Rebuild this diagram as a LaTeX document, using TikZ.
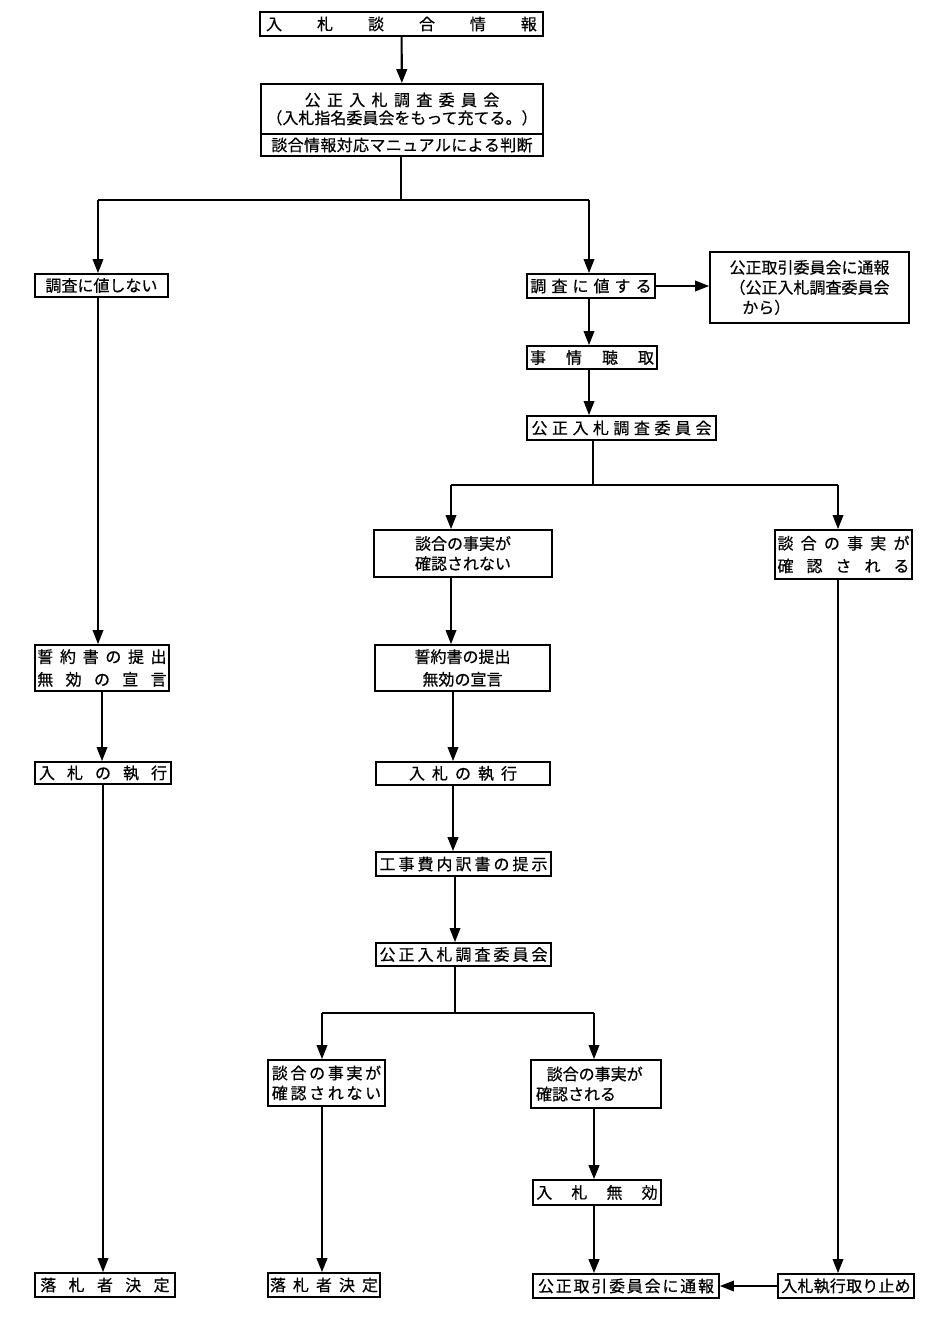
\documentclass[tikz,border=0pt]{standalone}
\usepackage{fontspec}
\newfontfamily\jp[FakeBold=0.5]{Noto Sans CJK JP}
\usetikzlibrary{arrows.meta}
\tikzset{
  box/.style={draw,line width=1.4pt,inner sep=0pt,align=center},
  ln/.style={line width=1pt},
  lnt/.style={line width=1.6pt},
  arr/.style={ln,-{Triangle[width=8pt,length=10.5pt]}},
  arrt/.style={lnt,-{Triangle[width=8pt,length=10.5pt]}}}
\begin{document}
\begin{tikzpicture}[x=0.75pt,y=-0.75pt,
  font=\jp\fontsize{12pt}{15pt}\selectfont]
\useasboundingbox (0,0) rectangle (940,1319);
\fill[white] (0,0) rectangle (940,1319);

% top
\node[box,minimum width=212.25pt,minimum height=18pt] (n1) at (401.5,24) {\hbox to 203pt{入\hfill 札\hfill 談\hfill 合\hfill 情\hfill 報}};
\node[box,minimum width=211.5pt,minimum height=37.5pt] (n2a) at (402,109) {\hbox to 146pt{公\hfill 正\hfill 入\hfill 札\hfill 調\hfill 査\hfill 委\hfill 員\hfill 会}\\[-1.5pt]（入札指名委員会をもって充てる。）};
\node[box,minimum width=211.5pt,minimum height=16.5pt] (n2b) at (402,145) {\hbox to 196pt{談\hfill 合\hfill 情\hfill 報\hfill 対\hfill 応\hfill マ\hfill ニ\hfill ュ\hfill ア\hfill ル\hfill に\hfill よ\hfill る\hfill 判\hfill 断}};

\node[box,minimum width=99.75pt,minimum height=17.25pt] (n3) at (101.5,285.5) {調査に値しない};
\node[box,minimum width=96pt,minimum height=18pt] (n4) at (591,286) {\hbox to 91pt{調\hfill 査\hfill に\hfill 値\hfill す\hfill る}};
\node[box,minimum width=149.25pt,minimum height=53.25pt,align=left] (n5) at (809.5,287.5) {公正取引委員会に通報\\（公正入札調査委員会\\\hspace*{0.8em}から）};
\node[box,minimum width=97.5pt,minimum height=17.25pt] (n6) at (592,357.5) {\hbox to 93pt{事\hfill 情\hfill 聴\hfill 取}};
\node[box,minimum width=141.75pt,minimum height=18pt] (n7) at (621.5,428) {\hbox to 135pt{公\hfill 正\hfill 入\hfill 札\hfill 調\hfill 査\hfill 委\hfill 員\hfill 会}};

\node[box,minimum width=133.5pt,minimum height=35.25pt] (n8) at (463,553.5) {談合の事実が\\確認されない};
\node[box,minimum width=102.75pt,minimum height=36.75pt] (n9) at (843.5,554.5) {\hbox to 99pt{談\hfill 合\hfill の\hfill 事\hfill 実\hfill が}\\[2pt]\hbox to 99pt{確\hfill 認\hfill さ\hfill れ\hfill る}};

\node[box,minimum width=100.5pt,minimum height=34.5pt] (n20) at (102,668) {\hbox to 97pt{誓\hfill 約\hfill 書\hfill の\hfill 提\hfill 出}\\[2pt]\hbox to 97pt{無\hfill 効\hfill の\hfill 宣\hfill 言}};
\node[box,minimum width=131.25pt,minimum height=34.5pt] (n10) at (462.5,668) {誓約書の提出\\[2pt]無効の宣言};

\node[box,minimum width=102pt,minimum height=16.5pt] (n21) at (103,773) {\hbox to 96pt{入\hfill 札\hfill の\hfill 執\hfill 行}};
\node[box,minimum width=130.5pt,minimum height=17.25pt] (n11) at (463,773.5) {\hbox to 81pt{入\hfill 札\hfill の\hfill 執\hfill 行}};
\node[box,minimum width=131.25pt,minimum height=18pt] (n12) at (463.5,864) {\hbox to 126pt{工\hfill 事\hfill 費\hfill 内\hfill 訳\hfill 書\hfill の\hfill 提\hfill 示}};
\node[box,minimum width=131.25pt,minimum height=17.25pt] (n13) at (463.5,954.5) {\hbox to 126pt{公\hfill 正\hfill 入\hfill 札\hfill 調\hfill 査\hfill 委\hfill 員\hfill 会}};

\node[box,minimum width=87.75pt,minimum height=34.5pt] (n14) at (326.5,1083) {\hbox to 82pt{談\hfill 合\hfill の\hfill 事\hfill 実\hfill が}\\\hbox to 82pt{確\hfill 認\hfill さ\hfill れ\hfill な\hfill い}};
\node[box,minimum width=97.5pt,minimum height=36pt,align=left] (n15) at (596,1084) {\hspace*{8pt}談合の事実が\hspace*{10pt}\\確認される};
\node[box,minimum width=96pt,minimum height=18.75pt] (n16) at (597,1192.5) {\hbox to 91pt{入\hfill 札\hfill 無\hfill 効}};

\node[box,minimum width=105pt,minimum height=18pt] (n22) at (105,1285) {\hbox to 97pt{落\hfill 札\hfill 者\hfill 決\hfill 定}};
\node[box,minimum width=84pt,minimum height=18pt] (n19) at (324,1285) {\hbox to 81pt{落\hfill 札\hfill 者\hfill 決\hfill 定}};
\node[box,minimum width=139.5pt,minimum height=18pt] (n17) at (626,1286) {\hbox to 132pt{公\hfill 正\hfill 取\hfill 引\hfill 委\hfill 員\hfill 会\hfill に\hfill 通\hfill 報}};
\node[box,minimum width=102pt,minimum height=18pt] (n18) at (846,1286) {\hbox to 97pt{入\hfill 札\hfill 執\hfill 行\hfill 取\hfill り\hfill 止\hfill め}};

% coordinates
\coordinate (f1) at (401,200);
\coordinate (f1l) at (98,200);
\coordinate (f1r) at (589,200);
\coordinate (f2) at (593,485);
\coordinate (f2l) at (451,485);
\coordinate (f2r) at (838,485);
\coordinate (mx) at (453,0);
\coordinate (f3) at (455,1013);
\coordinate (f3l) at (322,1013);
\coordinate (f3r) at (594,1013);

% connectors
\draw[arrt] (n1) -- (n2a);
\draw[ln] (n2b.south -| f1) -- (f1);
\draw[ln] (f1l) -- (f1r);
\draw[arr] (f1l) -- (f1l |- n3.north);
\draw[arr] (f1r) -- (f1r |- n4.north);
\draw[arr] (n4.east) -- (n4.east -| n5.west);
\draw[arr] (n4.south -| f1r) -- (n6.north -| f1r);
\draw[arr] (n6.south -| f1r) -- (n7.north -| f1r);
\draw[ln] (n7.south -| f2) -- (f2);
\draw[ln] (f2l) -- (f2r);
\draw[arr] (f2l) -- (f2l |- n8.north);
\draw[arr] (f2r) -- (f2r |- n9.north);
\draw[arr] (n8.south -| f2l) -- (n10.north -| f2l);
\draw[arr] (n10.south -| mx) -- (n11.north -| mx);
\draw[arrt] (n11.south -| mx) -- (n12.north -| mx);
\draw[arr] (n12.south -| f3) -- (n13.north -| f3);
\draw[ln] (n13.south -| f3) -- (f3);
\draw[ln] (f3l) -- (f3r);
\draw[arr] (f3l) -- (f3l |- n14.north);
\draw[arr] (f3r) -- (f3r |- n15.north);
\draw[arrt] (n14.south -| f3l) -- (n19.north -| f3l);
\draw[arrt] (n15.south -| f3r) -- (n16.north -| f3r);
\draw[arrt] (n16.south -| f3r) -- (n17.north -| f3r);
\draw[arr] (n9.south -| f2r) -- (n18.north -| f2r);
\draw[arr] (n18.west) -- (n17.east);

\draw[arr] (n3.south -| f1l) -- (n20.north -| f1l);
\draw[arr] (n20.south) -- (n20.south |- n21.north);
\draw[arr] (n21.south) -- (n21.south |- n22.north);
\end{tikzpicture}
\end{document}
